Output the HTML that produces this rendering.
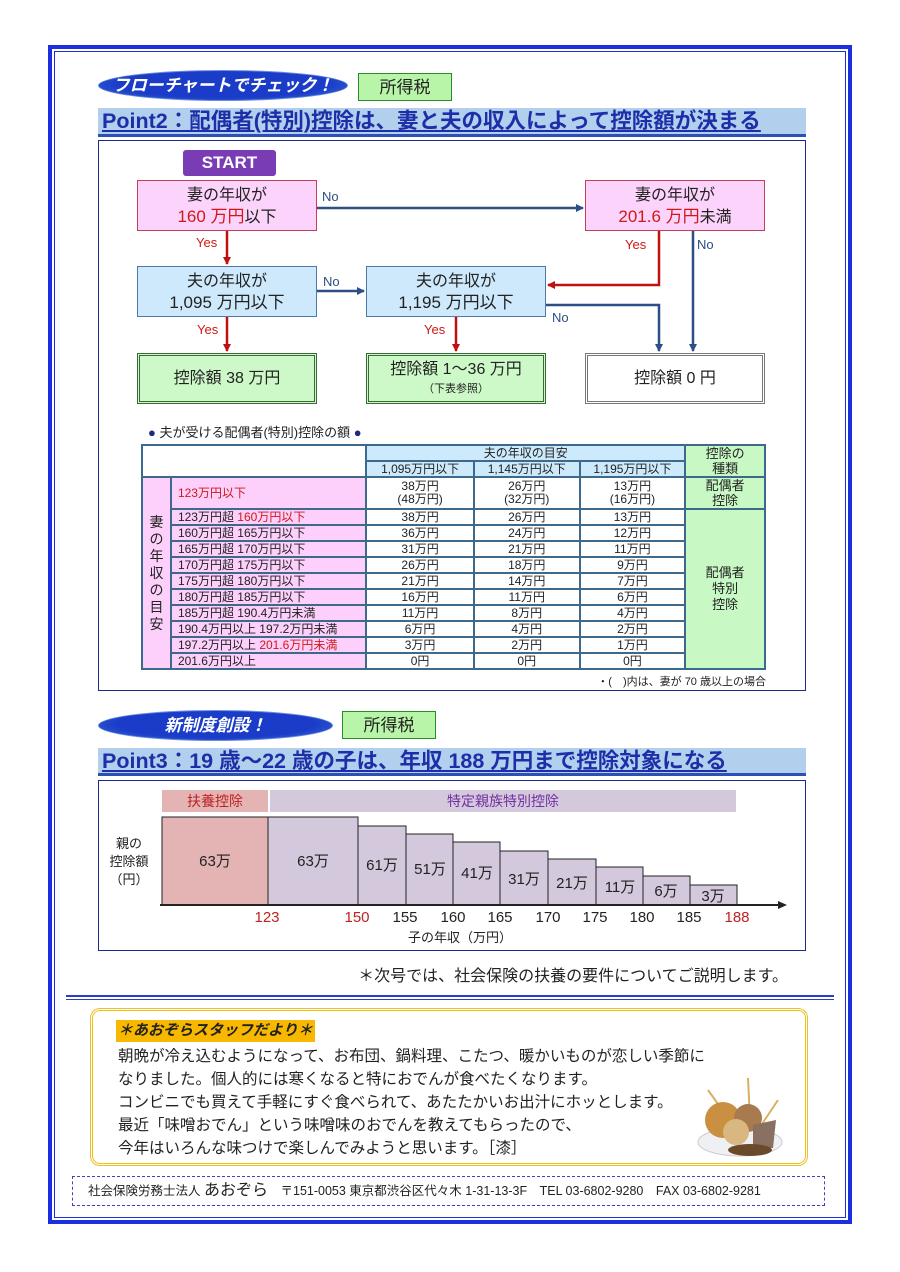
<!DOCTYPE html>
<html><head><meta charset="utf-8"><style>
*{margin:0;padding:0;box-sizing:border-box}
body{width:900px;height:1272px;background:#fff;position:relative;font-family:"Liberation Sans","Noto Sans CJK JP",sans-serif;color:#222;overflow:hidden}
.a{position:absolute}
.ell{position:absolute;border-radius:50%;background:radial-gradient(ellipse at 50% 45%,#1a3cc8 60%,#4a78d8 100%);border:1px solid #6b8fe0;color:#fff;font-weight:bold;font-size:17px;text-align:center;font-style:italic}
.tax{position:absolute;background:#b9f5a8;border:1px solid #2a8a2a;font-size:17px;text-align:center}
.pt{position:absolute;background:#b3cfee;border-bottom:3px solid #2b50b8;color:#1c2fa8;font-weight:bold;font-size:21.5px;text-decoration:underline;padding-left:4px;white-space:nowrap}
.box{position:absolute;text-align:center;font-size:16px;line-height:21px;border:1px solid #b03050}
.pink{background:#fcd3fa;border-color:#c0405a}
.blue{background:#cde9fb;border-color:#4f79a8}
.grn{background:#cdf8c8;border:3px double #3a6a3a}
.wht{background:#fff;border:3px double #777}
.r{color:#d01818}
.lab{position:absolute;font-size:13px}
table{border-collapse:collapse;position:absolute;left:141px;top:444px;width:625px;font-size:12px;font-family:"Liberation Sans","Noto Sans CJK JP",sans-serif}
td{border:2px solid #3d6a8c;text-align:center;line-height:12.7px;padding:0}
.pk{background:#fdd0fb;text-align:left;padding-left:6px}
.lg{background:#c8f8c4}
.lb{background:#cdeafc}
tr.s{height:16px}
</style></head><body>
<div class="a" style="left:48px;top:45px;width:804px;height:1179px;border:4px solid #1b2fe0"></div>
<div class="a" style="left:54px;top:51px;width:792px;height:1167px;border:1px solid #1b2fe0"></div>

<div class="ell" style="left:98px;top:70px;width:250px;height:31px;line-height:29px">フローチャートでチェック！</div>
<div class="tax" style="left:358px;top:73px;width:94px;height:28px;line-height:27px">所得税</div>
<div class="pt" style="left:98px;top:108px;width:708px;height:29px;line-height:27px">Point2：配偶者(特別)控除は、妻と夫の収入によって控除額が決まる</div>

<div class="a" style="left:98px;top:140px;width:708px;height:551px;border:1px solid #1b2a8a"></div>
<div class="a" style="left:183px;top:150px;width:93px;height:26px;background:#7a3cb4;border-radius:3px;color:#fff;font-weight:bold;font-size:17px;text-align:center;line-height:26px">START</div>

<div class="box pink" style="left:137px;top:180px;width:180px;height:51px;padding-top:4px">妻の年収が<br><span class="r" style="font-size:17px">160 万円</span>以下</div>
<div class="box pink" style="left:585px;top:180px;width:180px;height:51px;padding-top:4px">妻の年収が<br><span class="r" style="font-size:17px">201.6 万円</span>未満</div>
<div class="box blue" style="left:137px;top:266px;width:180px;height:51px;padding-top:4px">夫の年収が<br><span style="font-size:17px">1,095 万円以下</span></div>
<div class="box blue" style="left:366px;top:266px;width:180px;height:51px;padding-top:4px">夫の年収が<br><span style="font-size:17px">1,195 万円以下</span></div>
<div class="box grn" style="left:137px;top:353px;width:180px;height:51px;line-height:45px">控除額 38 万円</div>
<div class="box grn" style="left:366px;top:353px;width:180px;height:51px;padding-top:5px;line-height:18px">控除額 1～36 万円<br><span style="font-size:11px">（下表参照）</span></div>
<div class="box wht" style="left:585px;top:353px;width:180px;height:51px;line-height:45px">控除額 0 円</div>

<svg class="a" style="left:0;top:0" width="900" height="420">
<defs>
<marker id="ab" markerWidth="8" markerHeight="8" refX="7" refY="4" orient="auto" markerUnits="userSpaceOnUse"><path d="M0,0L8,4L0,8z" fill="#2c4f85"/></marker>
<marker id="ar" markerWidth="8" markerHeight="8" refX="7" refY="4" orient="auto" markerUnits="userSpaceOnUse"><path d="M0,0L8,4L0,8z" fill="#c01010"/></marker>
</defs>
<g stroke="#2c4f85" stroke-width="2.5" fill="none">
<path d="M317,208H583" marker-end="url(#ab)"/>
<path d="M317,291H364" marker-end="url(#ab)"/>
<path d="M546,305H659V351" marker-end="url(#ab)"/>
<path d="M693,231V351" marker-end="url(#ab)"/>
</g>
<g stroke="#c01010" stroke-width="2.5" fill="none">
<path d="M227,231V264" marker-end="url(#ar)"/>
<path d="M227,317V351" marker-end="url(#ar)"/>
<path d="M456,317V351" marker-end="url(#ar)"/>
<path d="M659,231V285H548" marker-end="url(#ar)"/>
</g>
</svg>
<div class="lab" style="left:322px;top:189px;color:#2c4f85">No</div>
<div class="lab r" style="left:196px;top:235px">Yes</div>
<div class="lab r" style="left:625px;top:237px">Yes</div>
<div class="lab" style="left:697px;top:237px;color:#2c4f85">No</div>
<div class="lab" style="left:323px;top:274px;color:#2c4f85">No</div>
<div class="lab r" style="left:197px;top:322px">Yes</div>
<div class="lab r" style="left:424px;top:322px">Yes</div>
<div class="lab" style="left:552px;top:310px;color:#2c4f85">No</div>

<div class="a" style="left:148px;top:422px;font-size:13px;color:#222"><span style="color:#1b2a7a">●</span> 夫が受ける配偶者(特別)控除の額 <span style="color:#1b2a7a">●</span></div>
<table>
<colgroup><col style="width:29px"><col style="width:196px"><col style="width:108px"><col style="width:106px"><col style="width:106px"><col style="width:80px"></colgroup>
<tr style="height:16px"><td colspan="2" rowspan="2"></td><td colspan="3" class="lb">夫の年収の目安</td><td rowspan="2" class="lg" style="font-size:13px;line-height:15px">控除の<br>種類</td></tr>
<tr style="height:16px"><td class="lb">1,095万円以下</td><td class="lb">1,145万円以下</td><td class="lb">1,195万円以下</td></tr>
<tr style="height:32px"><td rowspan="12" class="pk" style="padding:0;text-align:center;font-size:14px;line-height:17px">妻<br>の<br>年<br>収<br>の<br>目<br>安</td><td class="pk r">123万円以下</td><td>38万円<br>(48万円)</td><td>26万円<br>(32万円)</td><td>13万円<br>(16万円)</td><td class="lg" style="font-size:13px;line-height:15px">配偶者<br>控除</td></tr>
<tr class="s"><td class="pk">123万円超 <span class="r">160万円以下</span></td><td>38万円</td><td>26万円</td><td>13万円</td><td rowspan="11" class="lg" style="font-size:13px;line-height:16px">配偶者<br>特別<br>控除</td></tr>
<tr class="s"><td class="pk">160万円超 165万円以下</td><td>36万円</td><td>24万円</td><td>12万円</td></tr>
<tr class="s"><td class="pk">165万円超 170万円以下</td><td>31万円</td><td>21万円</td><td>11万円</td></tr>
<tr class="s"><td class="pk">170万円超 175万円以下</td><td>26万円</td><td>18万円</td><td>9万円</td></tr>
<tr class="s"><td class="pk">175万円超 180万円以下</td><td>21万円</td><td>14万円</td><td>7万円</td></tr>
<tr class="s"><td class="pk">180万円超 185万円以下</td><td>16万円</td><td>11万円</td><td>6万円</td></tr>
<tr class="s"><td class="pk">185万円超 190.4万円未満</td><td>11万円</td><td>8万円</td><td>4万円</td></tr>
<tr class="s"><td class="pk">190.4万円以上 197.2万円未満</td><td>6万円</td><td>4万円</td><td>2万円</td></tr>
<tr class="s"><td class="pk">197.2万円以上 <span class="r">201.6万円未満</span></td><td>3万円</td><td>2万円</td><td>1万円</td></tr>
<tr class="s"><td class="pk">201.6万円以上</td><td>0円</td><td>0円</td><td>0円</td></tr>
</table>
<div class="a" style="right:134px;top:673px;font-size:11px">・(　)内は、妻が 70 歳以上の場合</div>

<div class="ell" style="left:98px;top:710px;width:235px;height:31px;line-height:29px">新制度創設！</div>
<div class="tax" style="left:342px;top:711px;width:94px;height:28px;line-height:27px">所得税</div>
<div class="pt" style="left:98px;top:748px;width:708px;height:28px;line-height:26px">Point3：19 歳～22 歳の子は、年収 188 万円まで控除対象になる</div>

<div class="a" style="left:98px;top:780px;width:708px;height:171px;border:1px solid #1b2a8a"></div>
<div class="a" style="left:162px;top:790px;width:106px;height:22px;background:#e4b4b4;color:#c02020;font-size:14px;text-align:center;line-height:22px">扶養控除</div>
<div class="a" style="left:270px;top:790px;width:466px;height:22px;background:#d4c8dc;color:#7030a0;font-size:14px;text-align:center;line-height:22px">特定親族特別控除</div>
<svg class="a" style="left:0;top:0" width="900" height="960">
<g stroke="#222" stroke-width="1" font-family="Liberation Sans,Noto Sans CJK JP,sans-serif" font-size="15" text-anchor="middle">
<rect x="162" y="817" width="106" height="88" fill="#e4b4b4"/>
<rect x="268" y="817" width="90" height="88" fill="#d4c8dc"/>
<rect x="358" y="826" width="48" height="79" fill="#d4c8dc"/>
<rect x="406" y="834" width="47" height="71" fill="#d4c8dc"/>
<rect x="453" y="842" width="47" height="63" fill="#d4c8dc"/>
<rect x="500" y="851" width="48" height="54" fill="#d4c8dc"/>
<rect x="548" y="859" width="48" height="46" fill="#d4c8dc"/>
<rect x="596" y="867" width="47" height="38" fill="#d4c8dc"/>
<rect x="643" y="876" width="47" height="29" fill="#d4c8dc"/>
<rect x="690" y="885" width="47" height="20" fill="#d4c8dc"/>
<g stroke="none" fill="#222">
<text x="215" y="866">63万</text><text x="313" y="866">63万</text><text x="382" y="870">61万</text><text x="430" y="874">51万</text><text x="477" y="878">41万</text><text x="524" y="884">31万</text><text x="572" y="888">21万</text><text x="620" y="892">11万</text><text x="666" y="896">6万</text><text x="713" y="901">3万</text>
<text x="267" y="922" fill="#c02020">123</text><text x="357" y="922" fill="#c02020">150</text><text x="405" y="922">155</text><text x="453" y="922">160</text><text x="500" y="922">165</text><text x="548" y="922">170</text><text x="595" y="922">175</text><text x="642" y="922">180</text><text x="689" y="922">185</text><text x="737" y="922" fill="#c02020">188</text>
<text x="460" y="942" font-size="13">子の年収（万円）</text>
<text x="129" y="848" font-size="13">親の</text><text x="129" y="866" font-size="13">控除額</text><text x="129" y="884" font-size="13">（円）</text>
</g>
</g>
<path d="M160,905H780" stroke="#222" stroke-width="2"/><path d="M778,901L787,905L778,909z" fill="#222"/>
</svg>

<div class="a" style="right:112px;top:962px;font-size:16px">＊次号では、社会保険の扶養の要件についてご説明します。</div>
<div class="a" style="left:66px;top:995px;width:768px;height:5px;border-top:2px solid #2b3ec8;border-bottom:1px solid #2b3ec8"></div>

<div class="a" style="left:90px;top:1008px;width:718px;height:158px;border:3px double #f0c020;border-radius:10px;background:#fff"></div>
<div class="a" style="left:116px;top:1020px;width:199px;height:22px;background:#f8b800;font-weight:bold;font-size:15px;line-height:22px;padding-left:2px;font-style:italic">＊あおぞらスタッフだより＊</div>
<div class="a" style="left:118px;top:1045px;font-size:15.5px;line-height:23px;white-space:nowrap">朝晩が冷え込むようになって、お布団、鍋料理、こたつ、暖かいものが恋しい季節に<br>なりました。個人的には寒くなると特におでんが食べたくなります。<br>コンビニでも買えて手軽にすぐ食べられて、あたたかいお出汁にホッとします。<br>最近「味噌おでん」という味噌味のおでんを教えてもらったので、<br>今年はいろんな味つけで楽しんでみようと思います。［漆］</div>
<svg class="a" style="left:688px;top:1070px" width="110" height="90">
<ellipse cx="52" cy="72" rx="42" ry="14" fill="#eef0f4" stroke="#ccc"/>
<line x1="20" y1="20" x2="45" y2="55" stroke="#d8b060" stroke-width="2"/>
<line x1="60" y1="8" x2="62" y2="50" stroke="#d8b060" stroke-width="2"/>
<line x1="90" y1="30" x2="70" y2="60" stroke="#d8b060" stroke-width="2"/>
<circle cx="35" cy="50" r="18" fill="#c89040"/>
<circle cx="60" cy="48" r="14" fill="#a87a50"/>
<path d="M65,55L88,50L85,78L65,78z" fill="#8a7060"/>
<circle cx="48" cy="62" r="13" fill="#d8b880"/>
<ellipse cx="62" cy="80" rx="22" ry="6" fill="#6a4a2a"/>
</svg>

<div class="a" style="left:72px;top:1176px;width:753px;height:30px;border:1px dashed #4040c0;font-size:12.5px;line-height:28px;padding-left:15px;white-space:nowrap">社会保険労務士法人 <span style="font-size:16px">あおぞら</span>　〒151-0053 東京都渋谷区代々木 1-31-13-3F　TEL 03-6802-9280　FAX 03-6802-9281</div>
</body></html>
